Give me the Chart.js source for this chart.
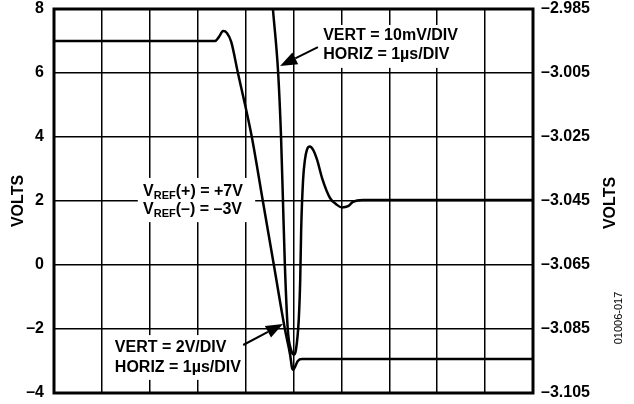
<!DOCTYPE html>
<html>
<head>
<meta charset="utf-8">
<script src="https://cdn.jsdelivr.net/npm/chart.js@4/dist/chart.umd.min.js"></script>
<style>
  html, body { margin: 0; padding: 0; background: #fff; }
  #wrap { width: 634px; height: 404px; }
</style>
</head>
<body>
<div id="wrap"><canvas id="scope"></canvas></div>
<script>
// 2V/DIV trace (left axis), time in µs
const timeA  = [0, 3.36, 3.44, 3.53, 3.61, 3.70, 3.84, 3.99, 4.13, 4.36, 4.59, 4.82, 4.93, 4.97, 4.99, 5.03, 5.09, 5.18, 10];
const voltsA = [7.0, 7.0, 7.12, 7.31, 7.25, 6.97, 6.0, 5.0, 4.0, 2.0, 0.0, -2.0, -2.81, -3.22, -3.28, -3.19, -3.0, -2.94, -2.94];

// 10mV/DIV trace (right axis)
const timeB  = [4.57, 4.68, 4.74, 4.78, 4.82, 4.88, 4.95, 5.01, 5.05, 5.11, 5.14, 5.16, 5.20, 5.24, 5.28, 5.34, 5.41, 5.49, 5.60, 5.76, 5.89, 6.01, 6.14, 6.24, 6.45, 10];
const voltsB = [-2.985, -3.005, -3.025, -3.045, -3.065, -3.085, -3.0916, -3.093, -3.0916, -3.082, -3.0697, -3.054, -3.0384, -3.032, -3.029, -3.028, -3.029, -3.032, -3.038, -3.044, -3.046, -3.047, -3.0466, -3.0453, -3.0447, -3.0447];

const leftTicks  = [-4, -2, 0, 2, 4, 6, 8];
const rightTicks = [-3.105, -3.085, -3.065, -3.045, -3.025, -3.005, -2.985];

const FONT = '"Liberation Sans", Arial, sans-serif';
const dash = s => s.replace('-', '\u2013');

const toXY = (xs, ys) => xs.map((x, i) => ({ x, y: ys[i] }));

// labels, boxes, arrows and frame
const decor = {
  id: 'decor',
  afterDatasetsDraw(chart) {
    const { ctx, chartArea: a, scales } = chart;
    const px = t => scales.x.getPixelForValue(t);
    const py = v => scales.y.getPixelForValue(v);

    ctx.save();
    // frame
    ctx.strokeStyle = '#000';
    ctx.lineWidth = 3;
    ctx.strokeRect(a.left, a.top, a.right - a.left, a.bottom - a.top);

    const box = (t0, t1, v0, v1) => {
      ctx.fillStyle = '#fff';
      ctx.fillRect(px(t0), py(v0), px(t1) - px(t0), py(v1) - py(v0));
    };
    box(5.52, 8.5, 7.5, 6.16);
    box(1.75, 4.2, 2.72, 1.34);
    box(1.17, 3.95, -2.19, -3.59);

    ctx.fillStyle = '#000';
    ctx.textBaseline = 'middle';
    ctx.textAlign = 'left';
    ctx.font = 'bold 16px ' + FONT;
    ctx.fillText('VERT = 10mV/DIV', px(5.62), py(7.16));
    ctx.fillText('HORIZ = 1\u00b5s/DIV', px(5.62), py(6.59));
    ctx.fillText('VERT = 2V/DIV', px(1.27), py(-2.59));
    ctx.fillText('HORIZ = 1\u00b5s/DIV', px(1.27), py(-3.22));

    const vref = (sign, rest, v) => {
      let x = px(1.86);
      const y = py(v);
      ctx.font = 'bold 16px ' + FONT;
      ctx.fillText('V', x, y);
      x += ctx.measureText('V').width;
      ctx.font = 'bold 11px ' + FONT;
      ctx.fillText('REF', x, y + 4);
      x += ctx.measureText('REF').width;
      ctx.font = 'bold 16px ' + FONT;
      ctx.fillText('(' + sign + ') = ' + rest, x, y);
    };
    vref('+', '+7V', 2.28);
    vref('\u2013', '\u20133V', 1.72);

    const arrow = (t0, v0, t1, v1) => {
      const x0 = px(t0), y0 = py(v0), x1 = px(t1), y1 = py(v1);
      const ang = Math.atan2(y1 - y0, x1 - x0);
      const len = 17, hw = 6.5;
      const bx = x1 - len * Math.cos(ang), by = y1 - len * Math.sin(ang);
      ctx.lineWidth = 2;
      ctx.beginPath();
      ctx.moveTo(x0, y0);
      ctx.lineTo(bx, by);
      ctx.stroke();
      ctx.beginPath();
      ctx.moveTo(x1, y1);
      ctx.lineTo(bx + hw * Math.sin(ang), by - hw * Math.cos(ang));
      ctx.lineTo(bx - hw * Math.sin(ang), by + hw * Math.cos(ang));
      ctx.closePath();
      ctx.fill();
    };
    arrow(5.51, 6.81, 4.72, 6.22);
    arrow(3.95, -2.5, 4.78, -1.84);

    // axis titles
    const vtext = (txt, x, y, font) => {
      ctx.save();
      ctx.translate(x, y);
      ctx.rotate(-Math.PI / 2);
      ctx.textAlign = 'center';
      ctx.font = font;
      ctx.fillText(txt, 0, 0);
      ctx.restore();
    };
    vtext('VOLTS', 19, (a.top + a.bottom) / 2, 'bold 16px ' + FONT);
    vtext('VOLTS', 611, (a.top + a.bottom) / 2 + 2, 'bold 16px ' + FONT);
    vtext('01006-017', 619, 318, '11px ' + FONT);
    ctx.restore();
  }
};

const lineStyle = { borderColor: '#000', borderWidth: 2.5, pointRadius: 0, fill: false, cubicInterpolationMode: 'monotone' };

new Chart(document.getElementById('scope'), {
  type: 'line',
  data: {
    datasets: [
      { label: '2V/DIV', data: toXY(timeA, voltsA), yAxisID: 'y', ...lineStyle },
      { label: '10mV/DIV', data: toXY(timeB, voltsB), yAxisID: 'y2', ...lineStyle }
    ]
  },
  options: {
    responsive: true,
    maintainAspectRatio: false,
    animation: false,
    layout: { padding: { top: 9, bottom: 11, left: 0, right: 0 } },
    plugins: { legend: { display: false }, tooltip: { enabled: false } },
    scales: {
      x: {
        type: 'linear', min: 0, max: 10,
        ticks: { display: false, stepSize: 1 },
        grid: { color: '#000', lineWidth: 1.5, drawTicks: false },
        border: { display: false },
        afterFit: s => { s.height = 0; s.paddingLeft = 0; s.paddingRight = 0; }
      },
      y: {
        position: 'left', min: -4, max: 8,
        afterBuildTicks: s => { s.ticks = leftTicks.map(v => ({ value: v })); },
        ticks: { color: '#000', padding: 10, font: { family: FONT, size: 16, weight: 'bold' }, callback: v => dash(String(v)) },
        grid: { color: '#000', lineWidth: 1.5, drawTicks: false },
        border: { display: false },
        afterFit: s => { s.width = 54; s.paddingTop = 0; s.paddingBottom = 0; }
      },
      y2: {
        position: 'right', min: -3.105, max: -2.985,
        afterBuildTicks: s => { s.ticks = rightTicks.map(v => ({ value: v })); },
        ticks: { color: '#000', padding: 8, font: { family: FONT, size: 16, weight: 'bold' }, callback: v => dash(v.toFixed(3)) },
        grid: { display: false, drawTicks: false },
        border: { display: false },
        afterFit: s => { s.width = 101; s.paddingTop = 0; s.paddingBottom = 0; }
      }
    }
  },
  plugins: [decor]
});
</script>
</body>
</html>
